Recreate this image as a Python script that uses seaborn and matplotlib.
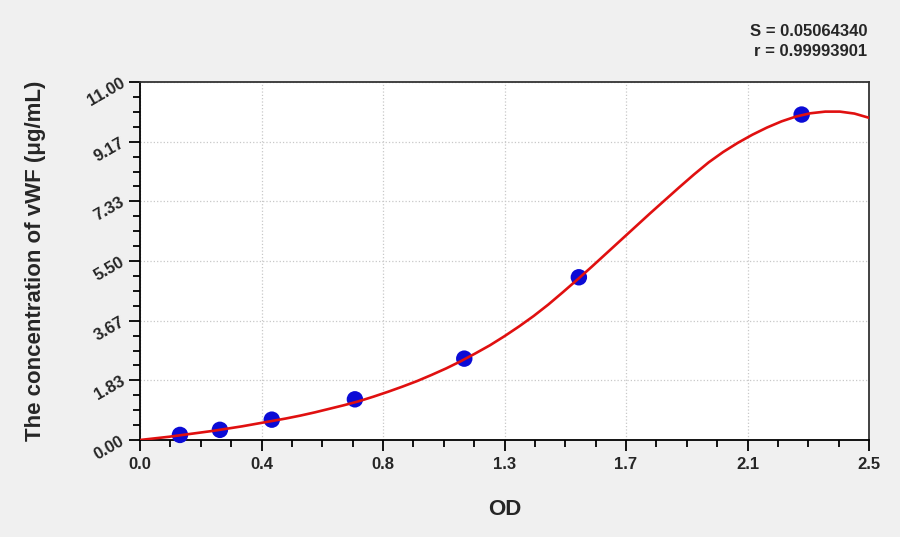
import numpy as np
import pandas as pd
import matplotlib
matplotlib.use('Agg')
import matplotlib.pyplot as plt
import seaborn as sns
from matplotlib.ticker import AutoMinorLocator

# Standard points (OD vs concentration)
std_od = [0.137, 0.274, 0.452, 0.737, 1.112, 1.505, 2.269]
std_conc = [0.156, 0.3125, 0.625, 1.25, 2.5, 5.0, 10.0]

# Fitted curve, every 0.05 OD
curve_od = [0.00, 0.05, 0.10, 0.15, 0.20, 0.25, 0.30, 0.35, 0.40, 0.45,
            0.50, 0.55, 0.60, 0.65, 0.70, 0.75, 0.80, 0.85, 0.90, 0.95,
            1.00, 1.05, 1.10, 1.15, 1.20, 1.25, 1.30, 1.35, 1.40, 1.45,
            1.50, 1.55, 1.60, 1.65, 1.70, 1.75, 1.80, 1.85, 1.90, 1.95,
            2.00, 2.05, 2.10, 2.15, 2.20, 2.25, 2.30, 2.35, 2.40, 2.45, 2.50]
curve_conc = [0.00, 0.05, 0.10, 0.16, 0.22, 0.28, 0.35, 0.42, 0.50, 0.58,
              0.66, 0.75, 0.85, 0.96, 1.07, 1.19, 1.33, 1.48, 1.64, 1.81,
              2.00, 2.20, 2.42, 2.66, 2.91, 3.19, 3.49, 3.81, 4.16, 4.54,
              4.93, 5.33, 5.74, 6.15, 6.56, 6.97, 7.37, 7.77, 8.16, 8.53,
              8.85, 9.13, 9.38, 9.60, 9.79, 9.94, 10.04, 10.09, 10.09, 10.03, 9.90]

x_ticks = [0, 2.5 / 6, 2 * 2.5 / 6, 3 * 2.5 / 6, 4 * 2.5 / 6, 5 * 2.5 / 6, 2.5]
x_labels = ['0.0', '0.4', '0.8', '1.3', '1.7', '2.1', '2.5']
y_ticks = [0, 11 / 6, 2 * 11 / 6, 3 * 11 / 6, 4 * 11 / 6, 5 * 11 / 6, 11]
y_labels = ['0.00', '1.83', '3.67', '5.50', '7.33', '9.17', '11.00']

S_value = '0.05064340'
r_value = '0.99993901'

sns.set_style('white')
plt.rcParams['font.family'] = ['Liberation Sans', 'DejaVu Sans']

bg = '#f0f0f0'
fig = plt.figure(figsize=(9, 5.37), dpi=100, facecolor=bg)
ax = fig.add_axes([140 / 900, 1 - 440 / 537, 729 / 900, 358 / 537])
ax.set_facecolor('white')

pts = pd.DataFrame({'OD': std_od, 'conc': std_conc})
crv = pd.DataFrame({'OD': curve_od, 'conc': curve_conc})

sns.scatterplot(data=pts, x='OD', y='conc', ax=ax, s=140, color='#0b0bd6',
                edgecolor='none', zorder=3, clip_on=False)
sns.lineplot(data=crv, x='OD', y='conc', ax=ax, color='#e01010', linewidth=1.9,
             sort=False, estimator=None, zorder=4)

ax.set_xlim(0, 2.5)
ax.set_ylim(0, 11)
ax.set_xticks(x_ticks)
ax.set_xticklabels(x_labels, fontsize=12, fontweight='bold')
ax.set_yticks(y_ticks)
ax.set_yticklabels(y_labels, fontsize=12, fontweight='bold', rotation=30,
                   ha='right', va='center', rotation_mode='anchor')
ax.xaxis.set_minor_locator(AutoMinorLocator(4))
ax.yaxis.set_minor_locator(AutoMinorLocator(4))
ax.tick_params(which='major', direction='out', length=8, width=1.3, color='black', pad=4)
ax.tick_params(which='minor', direction='out', length=5, width=1.3, color='black')
ax.tick_params(axis='x', which='both', bottom=True, top=False)
ax.tick_params(axis='y', which='both', left=True, right=False)

ax.grid(True, which='major', linestyle=':', color='#c8c8c8', linewidth=0.9)
for side in ['left', 'bottom', 'right', 'top']:
    ax.spines[side].set_visible(True)
    ax.spines[side].set_color('black')
    ax.spines[side].set_linewidth(1.3)
ax.spines['top'].set_color('#333333')
ax.spines['right'].set_color('#333333')

ax.set_xlabel('OD', fontsize=16, fontweight='bold', labelpad=20)
ax.set_ylabel('The concentration of vWF (\u03bcg/mL)', fontsize=16,
              fontweight='bold', labelpad=28)

fig.text(867 / 900, 1 - 31 / 537, 'S = ' + S_value, ha='right', va='center',
         fontsize=12, fontweight='bold')
fig.text(867 / 900, 1 - 52 / 537, 'r = ' + r_value, ha='right', va='center',
         fontsize=12, fontweight='bold')

fig.savefig('out.png', dpi=100, facecolor=bg)
